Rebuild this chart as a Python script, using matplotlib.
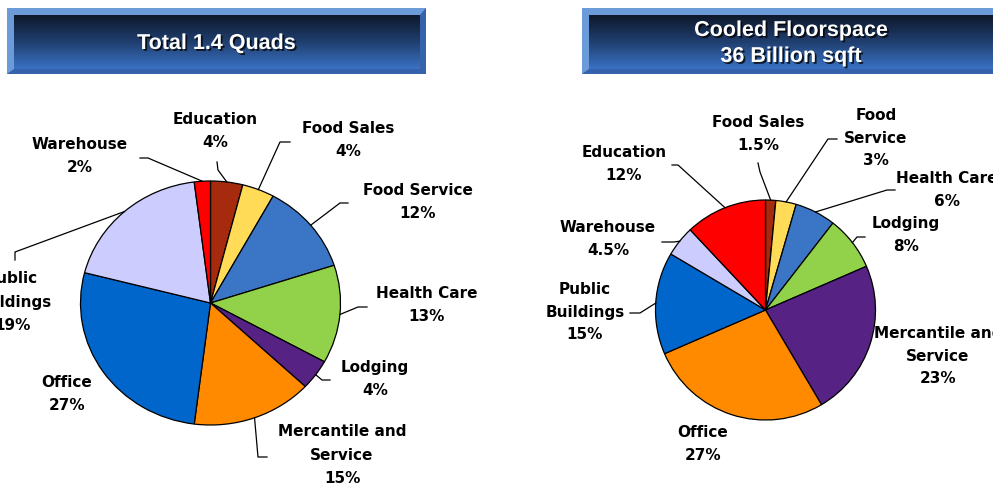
"""
Commercial cooling energy vs cooled floorspace, two pies with title bars
"""
import matplotlib
matplotlib.use('Agg')
import matplotlib.pyplot as plt
import matplotlib.patheffects as pe
from matplotlib.patches import Rectangle, Polygon
from matplotlib.colors import LinearSegmentedColormap
import numpy as np

plt.rcParams['font.family'] = ['DejaVu Sans']

W, H = 993, 490

# data
slice_colors = ['#A52A0E', '#FFDB58', '#3B76C6', '#92D14A', '#562385',
                '#FF8A00', '#0066CC', '#CCCCFF', '#FF0000']

energy_title = 'Total 1.4 Quads'
energy_labels = ['Education', 'Food Sales', 'Food Service', 'Health Care', 'Lodging',
                 'Mercantile and\nService', 'Office', 'Public\nBuildings', 'Warehouse']
energy_share = [4, 4, 12, 13, 4, 15, 27, 19, 2]

floor_title = ['Cooled Floorspace', '36 Billion sqft']
floor_labels = ['Food Sales', 'Food\nService', 'Health Care', 'Lodging',
                'Mercantile and\nService', 'Office', 'Public\nBuildings', 'Warehouse', 'Education']
floor_share = [1.5, 3, 6, 8, 23, 27, 15, 4.5, 12]

# label placement (pixels) and leader elbows
energy_label_xy = [(215, 131), (348, 140), (418, 202), (427, 305), (375, 379),
                   (342, 455), (67, 394), (12, 302), (80, 156)]
energy_leaders = [[(217, 162), (218, 170)], [(290, 142), (280, 142)], [(348, 203), (340, 203)],
                  [(367, 307), (358, 307)], [(330, 380), (322, 380)], [(267, 457), (258, 457)],
                  None, [(15, 260), (15, 252)], [(140, 158), (148, 158)]]

floor_label_xy = [(758, 134), (876, 138), (947, 190), (906, 235), (938, 356),
                  (703, 444), (585, 312), (608, 239), (624, 164)]
floor_leaders = [[(758, 163), (760, 172)], [(837, 139), (828, 139)], [(895, 190), (887, 190)],
                 [(865, 237), (857, 237)], None, None, [(630, 313), (640, 313)],
                 [(662, 242), (674, 242)], [(672, 165), (678, 165)]]

fig = plt.figure(figsize=(W / 100, H / 100), dpi=100)
fig.patch.set_facecolor('white')


def draw_pie(cx, cy, rx, ry, values):
    pad = 1.03
    ax = fig.add_axes([(cx - rx * pad) / W, (H - cy - ry * pad) / H,
                       2 * rx * pad / W, 2 * ry * pad / H])
    wedges, _ = ax.pie(values, colors=slice_colors, startangle=90, counterclock=False,
                       wedgeprops=dict(edgecolor='black', linewidth=0.9))
    ax.set_aspect('auto')
    ax.set_xlim(-pad, pad)
    ax.set_ylim(-pad, pad)
    ax.axis('off')
    return wedges


def add_labels(ov, cx, cy, rx, ry, wedges, values, labels, label_xy, leaders, spacing):
    for w, v, lab, (tx, ty), lead in zip(wedges, values, labels, label_xy, leaders):
        ov.text(tx, ty, f'{lab}\n{v:g}%', ha='center', va='center', fontsize=11,
                fontweight='bold', linespacing=spacing, color='black', zorder=6)
        if lead is not None:
            mid = np.deg2rad((w.theta1 + w.theta2) / 2)
            px = cx + rx * np.cos(mid)
            py = cy - ry * np.sin(mid)
            xs = [p[0] for p in lead] + [px]
            ys = [p[1] for p in lead] + [py]
            ov.plot(xs, ys, color='black', lw=0.9, zorder=6)


left_wedges = draw_pie(210.5, 303, 130, 122, energy_share)
right_wedges = draw_pie(765.5, 310, 110, 110, floor_share)

ov = fig.add_axes([0, 0, 1, 1])
ov.axis('off')

grad_cmap = LinearSegmentedColormap.from_list('bar', ['#0E1829', '#203F70', '#3A72C4'])
grad = np.linspace(0, 1, 200).reshape(-1, 1)


def title_box(x0, x1, y0, y1):
    ov.add_patch(Rectangle((x0, y0), x1 - x0, y1 - y0, facecolor='#6C9BDA',
                           edgecolor='none', zorder=1))
    ov.add_patch(Polygon([(x1, y0), (x1, y1), (x0, y1), (x0 + 7, y1 - 5),
                          (x1 - 6, y1 - 5), (x1 - 6, y0 + 7)],
                         closed=True, facecolor='#3562AB', edgecolor='none', zorder=1))
    ov.imshow(grad, cmap=grad_cmap, extent=(x0 + 7, x1 - 6, y1 - 5, y0 + 7),
              aspect='auto', zorder=2, interpolation='bilinear')


shadow = [pe.withSimplePatchShadow(offset=(1.3, -1.3), shadow_rgbFace='black', alpha=0.75)]

title_box(7, 426, 8, 74)
ov.text(216.5, 49, energy_title, ha='center', va='baseline', color='white',
        fontsize=15.5, fontweight='bold', family='Liberation Sans',
        path_effects=shadow, zorder=5)

title_box(582, 1000, 8, 74)
ov.text(791, 36, floor_title[0], ha='center', va='baseline', color='white',
        fontsize=15.5, fontweight='bold', family='Liberation Sans',
        path_effects=shadow, zorder=5)
ov.text(791, 62, floor_title[1], ha='center', va='baseline', color='white',
        fontsize=15.5, fontweight='bold', family='Liberation Sans',
        path_effects=shadow, zorder=5)

add_labels(ov, 210.5, 303, 130, 122, left_wedges, energy_share, energy_labels,
           energy_label_xy, energy_leaders, 1.72)
add_labels(ov, 765.5, 310, 110, 110, right_wedges, floor_share, floor_labels,
           floor_label_xy, floor_leaders, 1.62)

ov.set_xlim(0, W)
ov.set_ylim(H, 0)

fig.savefig('out.png', dpi=100)
